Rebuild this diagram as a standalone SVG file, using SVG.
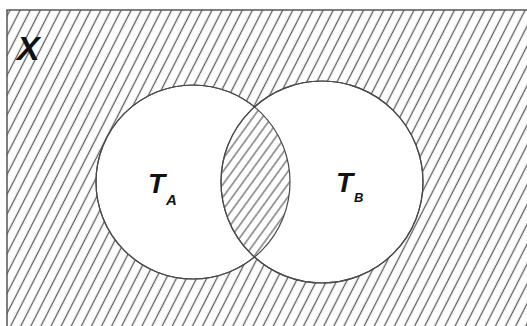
<svg xmlns="http://www.w3.org/2000/svg" width="527" height="326" viewBox="0 0 527 326">
  <defs>
    <pattern id="hatch" patternUnits="userSpaceOnUse" width="9" height="9" patternTransform="rotate(27)">
      <line x1="4.5" y1="-1" x2="4.5" y2="10" stroke="#5e5e5e" stroke-width="1.3"/>
    </pattern>
    <pattern id="hatch2" patternUnits="userSpaceOnUse" width="7.5" height="7.5" patternTransform="rotate(36)">
      <line x1="3.75" y1="-1" x2="3.75" y2="9" stroke="#5e5e5e" stroke-width="1.2"/>
    </pattern>
    <style>
      .edge { fill: none; stroke: #4a4a4a; stroke-width: 1.2; }
      .set { fill: #ffffff; stroke: #4a4a4a; stroke-width: 1.2; }
      .lbl { font-family: "Liberation Sans", Arial, sans-serif; font-style: italic; font-weight: bold; fill: #111111; }
    </style>
  </defs>
  <rect x="0" y="0" width="527" height="326" fill="#ffffff"/>
  <g id="universe">
    <rect x="7" y="10" width="530" height="330" fill="url(#hatch)" stroke="#555555" stroke-width="1.5"/>
    <text class="lbl" x="17" y="60" font-size="34" font-weight="normal">X</text>
  </g>
  <g id="set-A">
    <circle class="set" cx="193" cy="182" r="97"/>
  </g>
  <g id="set-B">
    <circle class="set" cx="322" cy="182" r="101"/>
  </g>
  <g id="intersection">
    <path d="M 254.4 107 A 97 97 0 0 1 254.4 257 A 101 101 0 0 1 254.4 107 Z" fill="url(#hatch2)"/>
  </g>
  <g id="outlines">
    <circle class="edge" cx="193" cy="182" r="97"/>
    <circle class="edge" cx="322" cy="182" r="101"/>
  </g>
  <g id="label-A">
    <text class="lbl" x="148" y="193" font-size="28">T</text>
    <text class="lbl" x="166" y="205" font-size="15">A</text>
  </g>
  <g id="label-B">
    <text class="lbl" x="336" y="192" font-size="28">T</text>
    <text class="lbl" x="354" y="202" font-size="13">B</text>
  </g>
</svg>
